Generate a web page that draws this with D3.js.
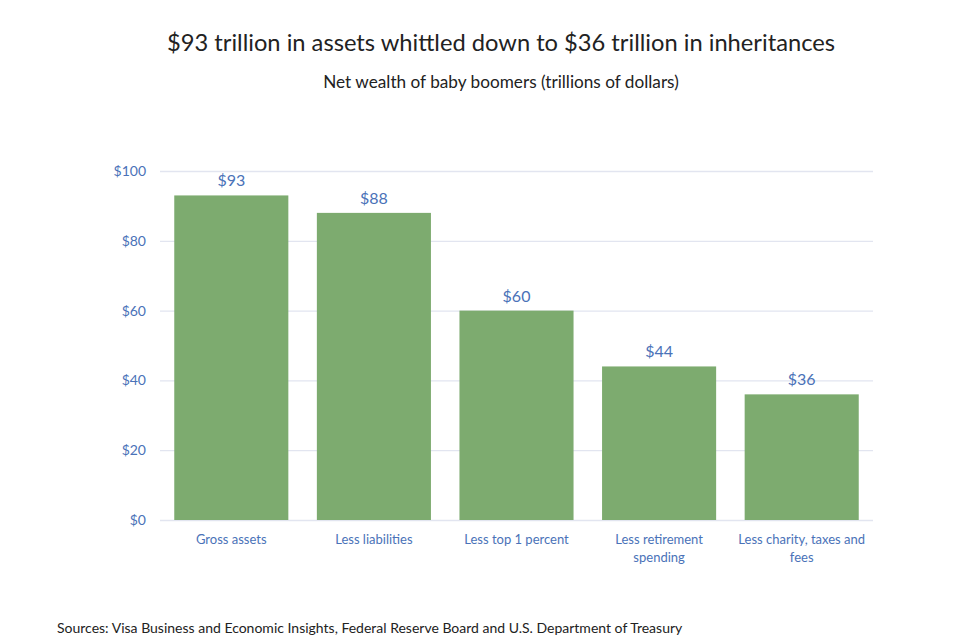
<!DOCTYPE html>
<html>
<head>
<meta charset="utf-8">
<script src="https://cdn.jsdelivr.net/npm/d3@7"></script>
<style>
  body { margin: 0; background: #fff; }
  text { font-family: Lato, "Open Sans", sans-serif; }
</style>
</head>
<body>
<script>
// chart data
let categories = ["Gross assets", "Less liabilities", "Less top 1 percent", "Less retirement spending", "Less charity, taxes and fees"];
let values = [93, 88, 60, 44, 36];
let yTicks = [0, 20, 40, 60, 80, 100];

let width = 960, height = 644;
let margin = {top: 171, right: 87, bottom: 124, left: 160};
let innerW = width - margin.left - margin.right,
    innerH = height - margin.top - margin.bottom;

let svg = d3.select("body").append("svg")
  .attr("width", width)
  .attr("height", height);

// titles
svg.append("text")
  .attr("x", 501).attr("y", 51)
  .attr("text-anchor", "middle")
  .attr("font-size", 23.7)
  .attr("fill", "#222")
  .text("$93 trillion in assets whittled down to $36 trillion in inheritances");

svg.append("text")
  .attr("x", 501).attr("y", 88)
  .attr("text-anchor", "middle")
  .attr("font-size", 17.2)
  .attr("fill", "#222")
  .text("Net wealth of baby boomers (trillions of dollars)");

svg.append("text")
  .attr("x", 57).attr("y", 633)
  .attr("font-size", 14)
  .attr("fill", "#222")
  .text("Sources: Visa Business and Economic Insights, Federal Reserve Board and U.S. Department of Treasury");

let g = svg.append("g")
  .attr("transform", "translate(" + margin.left + "," + margin.top + ")");

// scales
let x = d3.scaleBand().domain(categories).range([0, innerW]).paddingInner(0.2).paddingOuter(0.1);
let y = d3.scaleLinear().domain([0, 100]).range([innerH, 0]);

// gridlines + y labels
let yAxis = g.append("g")
  .call(d3.axisLeft(y).tickValues(yTicks).tickSize(-innerW).tickFormat(d => "$" + d).tickPadding(14));
yAxis.select(".domain").remove();
yAxis.selectAll(".tick line").attr("stroke", "#e2e5f0").attr("stroke-width", 1.3);
yAxis.selectAll(".tick text").attr("fill", "#4a72b8").attr("font-size", 14);

// bars
g.selectAll(".bar")
  .data(values)
  .enter().append("rect")
  .attr("class", "bar")
  .attr("x", (d, i) => x(categories[i]))
  .attr("y", d => y(d))
  .attr("width", x.bandwidth())
  .attr("height", d => innerH - y(d))
  .attr("fill", "#7dab6f");

// value labels
g.selectAll(".val")
  .data(values)
  .enter().append("text")
  .attr("class", "val")
  .attr("x", (d, i) => x(categories[i]) + x.bandwidth() / 2)
  .attr("y", d => y(d) - 9)
  .attr("text-anchor", "middle")
  .attr("font-size", 16)
  .attr("fill", "#4a72b8")
  .text(d => "$" + d);

// x labels (wrapped)
let xLabels = {
  "Gross assets": ["Gross assets"],
  "Less liabilities": ["Less liabilities"],
  "Less top 1 percent": ["Less top 1 percent"],
  "Less retirement spending": ["Less retirement", "spending"],
  "Less charity, taxes and fees": ["Less charity, taxes and", "fees"]
};
categories.forEach(c => {
  let t = g.append("text")
    .attr("x", x(c) + x.bandwidth() / 2)
    .attr("y", innerH + 24)
    .attr("text-anchor", "middle")
    .attr("font-size", 13)
    .attr("fill", "#4a72b8");
  xLabels[c].forEach((line, i) => {
    t.append("tspan")
      .attr("x", x(c) + x.bandwidth() / 2)
      .attr("dy", i === 0 ? 0 : 18)
      .text(line);
  });
});
</script>
</body>
</html>
